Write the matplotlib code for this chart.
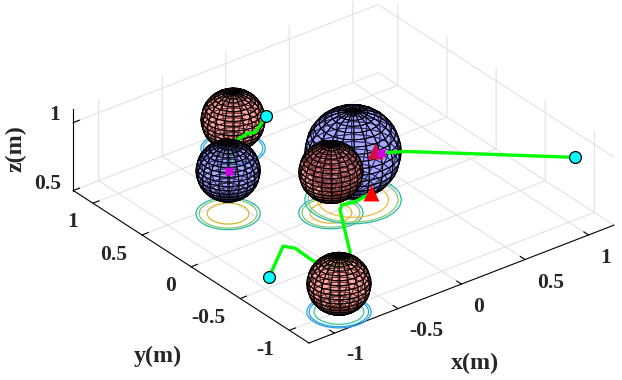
"""
Sfäärid ja trajektoorid 3D ruumis (x, y, z meetrites)
"""
import numpy as np
import matplotlib
matplotlib.use('Agg')
import matplotlib.pyplot as plt
from mpl_toolkits.mplot3d import proj3d

plt.rcParams['font.family'] = ['Liberation Serif', 'DejaVu Serif']
plt.rcParams['grid.color'] = '#e2e2e2'
plt.rcParams['grid.linewidth'] = 0.8

W, H = 622, 380

# sfääride keskpunktid ja raadiused
red_centers = [(-0.10, 0.00, 0.80), (-0.815, -1.007, 0.706), (-0.093, 1.005, 0.713)]
red_radii = [0.2, 0.2, 0.2]
blue_centers = [(-0.613, 0.383, 0.816), (0.108, 0.044, 0.853)]
blue_radii = [0.2, 0.3]

# rõngad põrandal: keskpunkt, raadiused, värvid
ring_xy = [(-0.613, 0.383), (-0.10, 0.00), (0.108, 0.044), (-0.815, -1.007), (-0.093, 1.005)]
ring_radii = [
    [0.20, 0.18, 0.13],
    [0.20, 0.18, 0.13],
    [0.30, 0.28, 0.22],
    [0.20, 0.185, 0.155],
    [0.20, 0.185],
]
ring_colors = [
    ['#22b8b0', '#8cc468', '#d8b830'],
    ['#22b8b0', '#8cc468', '#d8b830'],
    ['#22b8b0', '#8cc468', '#f6b840'],
    ['#2a9fe0', '#2a9fe0', '#30c8a0'],
    ['#2a9fe0', '#30b0d8'],
]

# trajektoorid (z = 0.8)
top_x = [0.004, -0.095, -0.173, -0.220, -0.310, -0.434, -0.525, -0.591]
top_y = [0.794, 0.728, 0.678, 0.698, 0.673, 0.594, 0.476, 0.401]
right_x = [0.329, 0.421, 0.771, 1.213]
right_y = [-0.026, -0.080, -0.390, -0.785]
low_x = [-1.207, -0.901, -0.857, -0.866, -0.813, -0.708, -0.614, -0.344, -0.296, -0.208, -0.091, -0.055]
low_y = [-0.802, -0.549, -0.614, -0.809, -0.943, -0.959, -0.859, -0.408, -0.366, -0.386, -0.365, -0.360]
traj_z = 0.8

start_x = [0.004, 1.213, -1.207]
start_y = [0.794, -0.785, -0.802]
tri_x = [0.279, -0.06]
tri_y = [0.043, -0.357]
square_x = [-0.591, 0.294, 0.006]
square_y = [0.401, 0.0, 0.217]

x_ticks = [-1, -0.5, 0, 0.5, 1]
y_ticks = [-1, -0.5, 0, 0.5, 1]
z_ticks = [0.5, 1]
x_tick_labels = ['-1', '-0.5', '0', '0.5', '1']
y_tick_labels = ['-1', '-0.5', '0', '0.5', '1']
z_tick_labels = ['0.5', '1']


def px_text(x, y, s, **kw):
    fig.text(x / W, 1 - y / H, s, ha='center', va='center', fontweight='bold', color='#262626', **kw)


def sphere(center, r, rgba, zorder):
    u = np.linspace(0, 2 * np.pi, 21)
    v = np.linspace(0, np.pi, 21)
    X = center[0] + r * np.outer(np.cos(u), np.sin(v))
    Y = center[1] + r * np.outer(np.sin(u), np.sin(v))
    Z = center[2] + r * np.outer(np.ones_like(u), np.cos(v))
    s = ax.plot_surface(X, Y, Z, rstride=1, cstride=1, color=rgba[:3], shade=False,
                        edgecolor='k', linewidth=0.7, zorder=zorder)
    s.set_facecolor(rgba)
    s.set_edgecolor('k')


fig = plt.figure(figsize=(W / 100, H / 100), dpi=100)
ax = fig.add_axes([0, 0, 1, 1], projection='3d', proj_type='ortho', computed_zorder=False)
ax.view_init(elev=30, azim=-127.7)
ax.set_xlim(-1.2, 1.2, view_margin=0)
ax.set_ylim(-1.2, 1.2, view_margin=0)
ax.set_zlim(0.5, 1.1, view_margin=0)
aspect = (385.6, 385.6, 94.2)
ax.set_box_aspect(aspect, zoom=1.0)
ax.patch.set_alpha(0)

ax.set_xticks(x_ticks)
ax.set_yticks(y_ticks)
ax.set_zticks(z_ticks)
ax.set_xticklabels([])
ax.set_yticklabels([])
ax.set_zticklabels([])
for a in (ax.xaxis, ax.yaxis, ax.zaxis):
    a.set_pane_color((1, 1, 1, 0))
    a.pane.set_edgecolor((1, 1, 1, 0))
    a.line.set_linewidth(0.8)
    a._axinfo['tick']['outward_factor'] = 0.25
    a._axinfo['tick']['inward_factor'] = 0.0
    a._axinfo['tick']['linewidth'] = {True: 0.8, False: 0.5}
ax.zaxis.set_ticks_position('upper')

# rõngad
t = np.linspace(0, 2 * np.pi, 90)
for (cx, cy), radii, cols in zip(ring_xy, ring_radii, ring_colors):
    for r, c in zip(radii, cols):
        ax.plot(cx + r * np.cos(t), cy + r * np.sin(t), 0.5 * np.ones_like(t), color=c, lw=0.9, zorder=1)

red = (1.0, 0.45, 0.42, 0.38)
blue = (0.45, 0.45, 1.0, 0.38)
sphere(blue_centers[1], blue_radii[1], blue, 2)
sphere(red_centers[2], red_radii[2], red, 2)
ax.plot(tri_x[:1], tri_y[:1], traj_z, '^', color='#d01040', ms=11, mec='none', zorder=2.5)
sphere(red_centers[0], red_radii[0], red, 2.8)

ax.plot(top_x, top_y, traj_z, color='#00ff00', lw=2.4, zorder=3, clip_on=False)
ax.plot(right_x, right_y, traj_z, color='#00ff00', lw=2.4, zorder=3, clip_on=False)
ax.plot(low_x, low_y, traj_z, color='#00ff00', lw=2.4, zorder=3, clip_on=False)
ax.plot(tri_x[1:], tri_y[1:], traj_z, '^', color='#ff0000', ms=11, mec='none', zorder=5)
ax.plot(square_x[1:2], square_y[1:2], traj_z, 's', color='#d000e0', ms=5.5, mec='none', zorder=3.5)
ax.plot(square_x[2:], square_y[2:], traj_z, 's', color='#c04090', ms=5, mec='none', zorder=2.6)

sphere(blue_centers[0], blue_radii[0], blue, 4)
sphere(red_centers[1], red_radii[1], red, 4)
ax.plot(square_x[:1], square_y[:1], traj_z, 's', color='#d000e0', ms=5.5, mec='none', zorder=4.5)
ax.plot(start_x, start_y, traj_z, 'o', color='#00ffff', ms=8.5, mec='k', mew=0.9, ls='none',
        zorder=6, clip_on=False)

# tekstid
x_label_pos = [(355, 355), (426, 331), (479, 307), (551, 283), (606, 258)]
y_label_pos = [(265, 350), (208, 318), (171, 286), (114, 255), (73, 222)]
z_label_pos = [(48, 184), (55, 115)]
for s, p in zip(x_tick_labels, x_label_pos):
    px_text(p[0], p[1], s, fontsize=15.5)
for s, p in zip(y_tick_labels, y_label_pos):
    px_text(p[0], p[1], s, fontsize=15.5)
for s, p in zip(z_tick_labels, z_label_pos):
    px_text(p[0], p[1], s, fontsize=15.5)
px_text(475, 363, 'x(m)', fontsize=17.3)
px_text(158, 356, 'y(m)', fontsize=17.3)
px_text(16, 149, 'z(m)', fontsize=17.3, rotation=90)


def corner_px(x, y, z):
    fig.canvas.draw()
    px, py, _ = proj3d.proj_transform(x, y, z, ax.get_proj())
    d = ax.transData.transform((px, py))
    return d[0], H - d[1]


# sobita telg pildile: esinurk (309, 343), parem nurk (614, 227)
f = corner_px(-1.2, -1.2, 0.5)
r = corner_px(1.2, -1.2, 0.5)
ax.set_box_aspect(aspect, zoom=305.0 / (r[0] - f[0]))
f = corner_px(-1.2, -1.2, 0.5)
ax.set_position([(309 - f[0]) / W, (f[1] - 343) / H, 1, 1])

fig.savefig('out.png', dpi=100)
